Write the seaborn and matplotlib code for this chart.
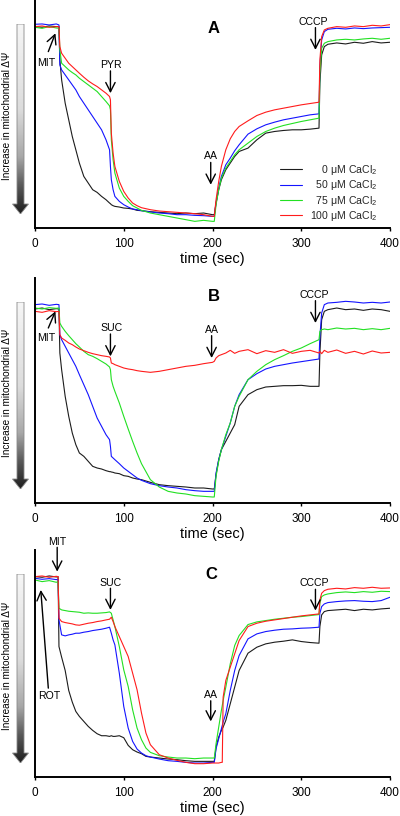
import numpy as np
import pandas as pd
import seaborn as sns
import matplotlib.pyplot as plt
from matplotlib.colors import LinearSegmentedColormap
from matplotlib.patches import Polygon

# ---------------- data (arbitrary fluorescence units) -------------
conditions = ["0", "50", "75", "100"]
legend_labels = ["    0 \u03bcM CaCl$_2$", "  50 \u03bcM CaCl$_2$", "  75 \u03bcM CaCl$_2$", "100 \u03bcM CaCl$_2$"]
xticks = [0, 100, 200, 300, 400]

t_A = [0, 8, 16, 24, 27, 28, 30, 34, 38, 42, 46, 50, 55, 60, 65, 70, 75, 80, 84, 85, 86, 88,
       90, 95, 100, 105, 110, 115, 120, 130, 140, 150, 160, 170, 180, 190, 200, 202, 204, 207,
       210, 215, 220, 225, 230, 240, 250, 260, 270, 280, 290, 300, 310, 320, 321, 323, 326, 330,
       340, 350, 360, 370, 380, 390, 400]
A_black = [605, 603, 607, 605, 605, 505, 445, 375, 325, 275, 235, 195, 155, 135, 115, 107, 95, 85,
           75, 73, 70, 67, 65, 63, 60, 59, 57, 53, 52, 49, 47, 45, 43, 45, 43, 45, 40, 40, 75, 115,
           145, 175, 195, 215, 230, 240, 265, 285, 290, 293, 295, 295, 297, 300, 435, 520, 545, 552,
           556, 553, 558, 555, 560, 556, 558]
A_blue = [612, 613, 610, 613, 610, 490, 475, 460, 445, 430, 415, 395, 375, 355, 335, 315, 295, 265,
          235, 185, 145, 115, 95, 80, 70, 63, 57, 55, 52, 48, 45, 43, 40, 40, 38, 37, 35, 35, 75, 120,
          155, 190, 210, 232, 250, 282, 298, 310, 318, 325, 330, 335, 340, 343, 485, 565, 590, 597,
          600, 598, 601, 599, 601, 602, 603]
A_green = [603, 600, 605, 601, 600, 535, 495, 485, 475, 467, 460, 450, 440, 430, 420, 410, 395, 380,
           367, 355, 265, 205, 165, 120, 95, 80, 67, 60, 53, 45, 40, 35, 30, 25, 20, 23, 20, 20, 70,
           115, 150, 180, 200, 220, 235, 255, 275, 290, 300, 308, 314, 320, 325, 330, 465, 540, 555,
           560, 565, 567, 565, 568, 570, 567, 570]
A_red = [605, 607, 603, 605, 605, 545, 525, 510, 495, 485, 475, 465, 453, 442, 433, 425, 415, 405,
         395, 385, 285, 225, 185, 140, 110, 90, 75, 67, 61, 55, 51, 49, 47, 45, 43, 40, 35, 35, 85,
         140, 185, 235, 268, 290, 305, 322, 338, 348, 355, 360, 365, 370, 374, 378, 505, 575, 595,
         600, 605, 603, 607, 605, 609, 607, 611]

t_B = list(t_A)
B_black = [582, 585, 580, 583, 582, 450, 400, 320, 260, 210, 175, 150, 140, 125, 110, 105, 102, 97,
           94, 94, 93, 92, 90, 88, 82, 80, 75, 72, 70, 62, 55, 52, 50, 48, 45, 45, 42, 42, 85, 130,
           160, 185, 210, 235, 290, 325, 340, 348, 350, 352, 352, 353, 350, 350, 450, 550, 575, 580,
           585, 580, 582, 578, 582, 580, 575]
B_blue = [595, 597, 593, 596, 595, 505, 490, 470, 450, 430, 410, 385, 355, 325, 290, 255, 230, 205,
          190, 170, 140, 135, 130, 118, 105, 95, 85, 75, 68, 58, 52, 48, 45, 40, 37, 35, 35, 35, 90,
          130, 160, 200, 240, 290, 325, 370, 388, 402, 410, 415, 420, 424, 428, 432, 500, 570, 595,
          600, 602, 605, 603, 600, 602, 600, 603]
B_green = [585, 582, 586, 584, 585, 540, 530, 515, 502, 490, 478, 468, 455, 445, 440, 433, 425, 417,
           408, 400, 370, 350, 335, 300, 260, 222, 185, 150, 118, 70, 48, 35, 30, 27, 22, 20, 18, 18,
           80, 125, 160, 205, 240, 290, 320, 370, 395, 415, 430, 442, 455, 465, 478, 490, 515, 520,
           522, 520, 525, 522, 524, 520, 523, 520, 524]
B_red = [575, 572, 577, 574, 575, 505, 495, 488, 480, 475, 468, 462, 457, 452, 448, 445, 442, 440,
         438, 435, 420, 418, 415, 410, 405, 402, 400, 397, 395, 392, 395, 400, 405, 410, 413, 418,
         422, 425, 435, 442, 445, 450, 458, 449, 455, 460, 448, 457, 452, 460, 449, 455, 458, 450,
         455, 448, 458, 452, 459, 449, 455, 447, 456, 450, 452]

t_C = [0, 8, 16, 24, 26, 27, 30, 34, 38, 42, 46, 50, 55, 60, 65, 70, 75, 80, 84, 86, 88, 90, 95,
       100, 105, 110, 115, 120, 125, 130, 140, 150, 160, 170, 180, 190, 200, 202, 204, 207, 210,
       211, 212, 215, 220, 225, 230, 240, 250, 260, 270, 280, 290, 300, 310, 320, 321, 323, 326,
       330, 340, 350, 360, 370, 380, 390, 400]
C_black = [602, 600, 604, 601, 602, 392, 360, 320, 260, 225, 197, 182, 167, 152, 140, 130, 124, 124,
           122, 124, 122, 122, 124, 118, 95, 82, 75, 70, 62, 60, 57, 54, 52, 49, 47, 47, 47, 47, 90,
           120, 140, 145, 150, 170, 220, 270, 320, 372, 390, 400, 405, 408, 412, 407, 404, 402, 452,
           487, 497, 500, 502, 504, 500, 504, 502, 505, 507]
C_blue = [597, 594, 596, 593, 594, 472, 427, 424, 427, 429, 432, 432, 435, 437, 440, 442, 444, 447,
          450, 432, 412, 397, 312, 212, 147, 107, 84, 72, 64, 60, 54, 49, 47, 44, 42, 42, 44, 44, 85,
          115, 145, 155, 165, 190, 260, 320, 365, 415, 430, 437, 441, 444, 445, 447, 448, 450, 492,
          512, 520, 524, 527, 529, 530, 528, 527, 530, 540]
C_green = [592, 587, 590, 585, 587, 507, 502, 500, 498, 497, 496, 495, 492, 493, 492, 492, 493, 494,
           496, 492, 472, 452, 392, 322, 272, 202, 147, 112, 87, 74, 64, 60, 57, 57, 55, 57, 57, 57,
           100, 150, 200, 215, 230, 270, 340, 395, 425, 458, 466, 470, 474, 477, 480, 482, 485, 488,
           522, 542, 547, 550, 554, 556, 554, 557, 555, 558, 557]
C_red = [602, 604, 600, 603, 602, 477, 467, 464, 462, 460, 457, 456, 459, 462, 464, 467, 469, 472,
         474, 480, 467, 452, 422, 392, 362, 312, 262, 192, 132, 97, 67, 57, 50, 44, 40, 40, 42, 42,
         42, 42, 44, 44, 240, 290, 330, 370, 410, 452, 462, 468, 472, 476, 480, 484, 487, 490, 532,
         552, 560, 564, 567, 565, 569, 567, 570, 567, 568]

panels = {
    "A": (t_A, [A_black, A_blue, A_green, A_red], 685),
    "B": (t_B, [B_black, B_blue, B_green, B_red], 675),
    "C": (t_C, [C_black, C_blue, C_green, C_red], 682),
}

# annotations: (text, text_xy, arrow_tail, arrow_head)
annotations = {
    "A": [("MIT", (13, 495), (15, 530), (23, 585)),
          ("PYR", (86, 490), (85, 472), (85, 405)),
          ("AA", (198, 215), (198, 197), (198, 130)),
          ("CCCP", (314, 620), (316, 602), (316, 535))],
    "B": [("MIT", (13, 495), (15, 525), (23, 575)),
          ("SUC", (86, 525), (85, 507), (85, 440)),
          ("AA", (199, 520), (199, 502), (199, 435)),
          ("CCCP", (315, 625), (316, 607), (316, 540))],
    "C": [("MIT", (25, 707), (25, 690), (25, 617)),
          ("ROT", (16, 242), (15, 267), (6.5, 562)),
          ("SUC", (85, 582), (85, 567), (85, 502)),
          ("AA", (198, 247), (198, 229), (198, 167)),
          ("CCCP", (315, 582), (316, 564), (316, 500))],
}
letter_pos = {"A": (201, 600), "B": (201, 620), "C": (199, 607)}

# ---------------- styling ---------------------------------------------------------------
sns.set_theme(style="white")
plt.rcParams['font.family'] = ['Liberation Sans', 'DejaVu Sans']
plt.rcParams['mathtext.fontset'] = 'custom'
plt.rcParams['mathtext.rm'] = 'Liberation Sans'
plt.rcParams['mathtext.it'] = 'Liberation Sans:italic'
plt.rcParams['mathtext.bf'] = 'Liberation Sans:bold'

palette = {"0": "#1c1c1c", "50": "#1414ff", "75": "#22e022", "100": "#ff1c1c"}

W, H = 400, 816
fig = plt.figure(figsize=(W / 100, H / 100), dpi=100)

# axes boxes in pixels (top, bottom)
boxes = {"A": (0, 228), "B": (278, 503), "C": (550, 777)}
left_px, right_px = 35, 390

grad_cmap = LinearSegmentedColormap.from_list(
    "g", [(0, "#f6f6f6"), (0.45, "#dcdcdc"), (0.7, "#a8a8a8"), (0.85, "#5a5a5a"), (1, "#1e1e1e")])

for name, (tt, series, ytop) in panels.items():
    top_px, bot_px = boxes[name]
    ax = fig.add_axes([left_px / W, 1 - bot_px / H, (right_px - left_px) / W, (bot_px - top_px) / H])
    frames = []
    for cond, vals in zip(conditions, series):
        frames.append(pd.DataFrame({"time": tt, "signal": vals, "CaCl2": cond}))
    df = pd.concat(frames, ignore_index=True)
    sns.lineplot(data=df, x="time", y="signal", hue="CaCl2", hue_order=conditions,
                 palette=palette, estimator=None, sort=False, linewidth=0.8,
                 legend=False, ax=ax)
    ax.set_xlim(0, 400)
    ax.set_ylim(0, ytop)
    ax.set_xticks(xticks)
    ax.set_xticklabels([str(x) for x in xticks])
    ax.set_yticks([])
    ax.set_ylabel("")
    ax.set_xlabel("time (sec)", fontsize=10.5, labelpad=1.5, color="black")
    ax.tick_params(axis="x", bottom=True, direction="out", length=2.5, width=1,
                   pad=4.5, labelsize=8.5, colors="black")
    for s in ["top", "right"]:
        ax.spines[s].set_visible(False)
    for s in ["left", "bottom"]:
        ax.spines[s].set_linewidth(1.4)
        ax.spines[s].set_color("black")

    ax.text(-0.078, 0.49, "Increase in mitochondrial \u0394\u03a8", rotation=90,
            transform=ax.transAxes, ha="center", va="center", fontsize=7.2, color="black")

    lx, ly = letter_pos[name]
    ax.text(lx, ly, name, ha="center", va="center", fontsize=12, fontweight="bold", color="black")

    for txt, txy, tail, head in annotations[name]:
        ax.text(txy[0], txy[1], txt, ha="center", va="center", fontsize=7.6, color="black",
                clip_on=False)
        ax.annotate("", xy=head, xytext=tail, annotation_clip=False,
                    arrowprops=dict(arrowstyle="->,head_length=0.55,head_width=0.28",
                                    lw=1.0, color="black", shrinkA=0, shrinkB=0))

    if name == "A":
        handles = ax.lines[:4]
        ax.legend(handles, legend_labels, loc="upper left", bbox_to_anchor=(0.69, 0.285),
                  frameon=False, fontsize=7.6, handlelength=2.1, handletextpad=0.7,
                  labelspacing=0.12, borderpad=0, borderaxespad=0)

    # gradient arrow on the left
    a_top = top_px + 24
    a_tip = bot_px - 14
    x0, x1 = 12, 29
    gax = fig.add_axes([x0 / W, 1 - a_tip / H, (x1 - x0) / W, (a_tip - a_top) / H])
    gax.set_xlim(0, 1)
    gax.set_ylim(0, 1)
    gax.axis("off")
    hl = 10 / (a_tip - a_top)
    bx0, bx1 = 5 / 17, 12 / 17
    pts = [(bx0, 1), (bx1, 1), (bx1, hl), (0.97, hl), (0.5, 0), (0.03, hl), (bx0, hl)]
    poly = Polygon(pts, closed=True, facecolor="none", edgecolor="#8a8a8a", lw=0.6)
    gax.add_patch(poly)
    im = gax.imshow(np.linspace(0, 1, 256).reshape(-1, 1), cmap=grad_cmap, aspect="auto",
                    extent=(0, 1, 0, 1), interpolation="bilinear")
    im.set_clip_path(poly)

fig.savefig("out.png", dpi=100)
